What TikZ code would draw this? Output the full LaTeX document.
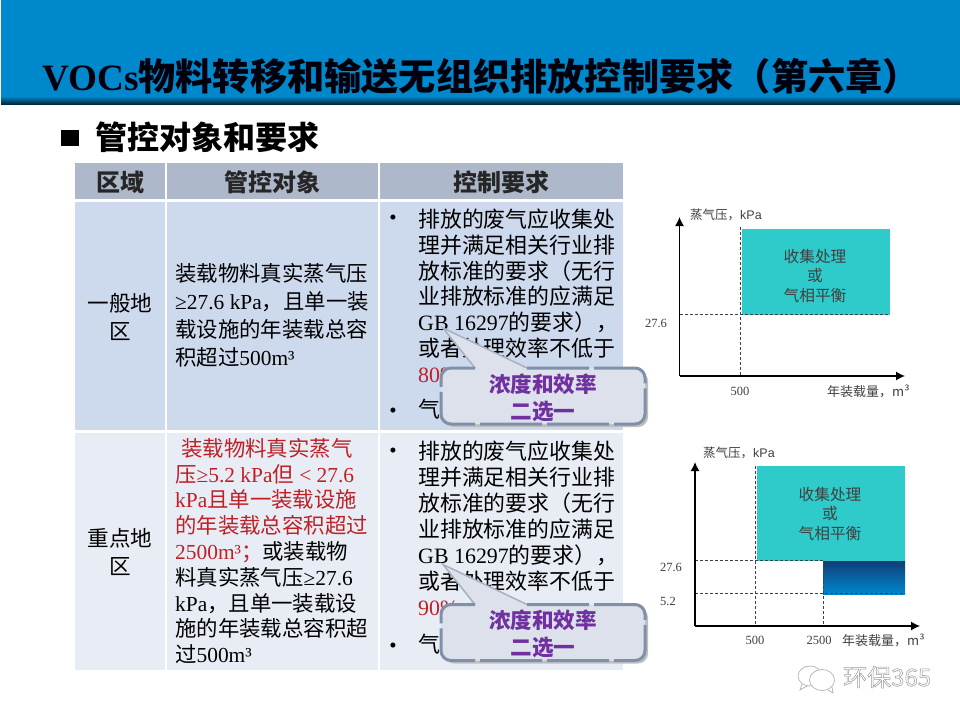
\documentclass[tikz,border=0pt]{standalone}
\usepackage{fontspec}
\setmainfont{Liberation Serif}
\newfontfamily\cjk{Noto Sans CJK SC}
\newfontfamily\lsans{Liberation Sans}
\newcommand{\Cn}[1]{{\cjk #1}}
\definecolor{bandblue}{HTML}{0088CC}
\definecolor{headgray}{HTML}{ADB9CA}
\definecolor{rowa}{HTML}{CDD9EC}
\definecolor{rowb}{HTML}{E8EDF5}
\definecolor{teal}{HTML}{2FCBCB}
\definecolor{calloutfill}{HTML}{DCE1EC}
\definecolor{calloutline}{HTML}{8090A8}
\definecolor{purpletext}{HTML}{7030A0}
\definecolor{redtext}{HTML}{BE2026}
\definecolor{labelgray}{HTML}{404040}
\definecolor{deepblue}{HTML}{0F3E78}
\tikzset{
  headtext/.style={inner sep=0pt,font=\fontsize{24}{26}\selectfont\cjk\bfseries,text=black!85},
  bodytext/.style={inner sep=0pt,align=left,anchor=north west,font=\fontsize{21.9}{25.9}\selectfont},
  centertext/.style={inner sep=0pt,align=center,font=\fontsize{21.6}{28}\selectfont\cjk},
  bulletmark/.style={inner sep=0pt,font=\fontsize{21}{21}\selectfont},
  calloutshape/.style={draw=calloutline,line width=3pt,dash pattern=on 62pt off 5pt},
  calloutshadow/.style={fill=black!25,draw=none},
  callouttext/.style={inner sep=0pt,align=center,text=purpletext,font=\fontsize{21.6}{27}\selectfont\cjk\bfseries},
  axisline/.style={line width=1.3pt,-{Latex[length=9pt,width=9pt]}},
  guide/.style={line width=.7pt,dash pattern=on 3pt off 2pt,draw=black!75},
  tick/.style={inner sep=0pt,font=\fontsize{12.5}{13}\selectfont,text=labelgray},
  axislabel/.style={inner sep=0pt,anchor=west,font=\fontsize{13}{14}\selectfont\cjk,text=labelgray},
  ylabeltext/.style={inner sep=0pt,anchor=west,font=\fontsize{12.5}{14}\selectfont\cjk,text=labelgray},
  zonetext/.style={inner sep=0pt,align=center,text=black!75,font=\fontsize{15.7}{19.5}\selectfont\cjk},
}
\usetikzlibrary{arrows.meta,calc}
\newcommand{\BubbleBox}[2]{% y-offset, name
  \begin{scope}[yshift=-#1pt]
    \path[calloutshadow,rounded corners=10pt] (444,371) rectangle (648,427);
    \path[fill=calloutfill,draw=none,rounded corners=10pt] (441,368) -- (475,368) [sharp corners] -- (443,328) -- (527,368) [rounded corners=10pt] -- (645,368) -- (645,424) -- (441,424) -- cycle;
    \draw[calloutline!70,line width=1.5pt] (475,368) -- (443,328) -- (527,368);
    \draw[calloutshape,rounded corners=10pt] (527,368) -- (645,368) -- (645,424) -- (441,424) -- (441,368) -- (475,368);
    \node[callouttext] (#2) at (543,397.5) {浓度和效率\\二选一};
  \end{scope}
}
\begin{document}
\begin{tikzpicture}[x=1pt,y=-1pt]
\useasboundingbox (0,0) rectangle (960,720);
\fill[white] (0,0) rectangle (960,720);
% title band
\fill[bandblue] (1,0) rectangle (960,97);
\shade[top color=bandblue,bottom color=black!70!bandblue] (1,96) rectangle (960,104);
\node[inner sep=0pt,anchor=base west,text=black!95!blue,font=\fontsize{37.2}{40}\selectfont\bfseries] (title) at (42,90.5) {VOCs\Cn{物料转移和输送无组织排放控制要求（第六章）}};
% section heading
\fill[black] (61,129.5) rectangle (79,146);
\node[inner sep=0pt,anchor=west,font=\fontsize{32}{36}\selectfont\cjk\bfseries] (section) at (95,137) {管控对象和要求};
% table
\fill[headgray] (75,163) rectangle (164.5,198.5);
\fill[headgray] (166.5,163) rectangle (377.5,198.5);
\fill[headgray] (379.5,163) rectangle (623,198.5);
\fill[rowa] (75,202) rectangle (164.5,430);
\fill[rowa] (166.5,202) rectangle (377.5,430);
\fill[rowa] (379.5,202) rectangle (623,430);
\fill[rowb] (75,432.5) rectangle (164.5,670);
\fill[rowb] (166.5,432.5) rectangle (377.5,670);
\fill[rowb] (379.5,432.5) rectangle (623,670);
\node[headtext] (h1) at (120,182) {区域};
\node[headtext] (h2) at (272,182) {管控对象};
\node[headtext] (h3) at (501,182) {控制要求};
\node[centertext] (z1) at (120,317) {一般地\\区};
\node[centertext] (z2) at (120,552) {重点地\\区};
\node[bodytext,font=\fontsize{21.4}{28}\selectfont] (o1) at (175,263) {\Cn{装载物料真实蒸气压}\\≥27.6 kPa\Cn{，且单一装}\\\Cn{载设施的年装载总容}\\\Cn{积超过}500m³};
\node[bodytext,font=\fontsize{21.4}{25.8}\selectfont] (o2) at (175,438) {\textcolor{redtext}{\hspace{6pt}\Cn{装载物料真实蒸气}}\\\textcolor{redtext}{\Cn{压}≥5.2 kPa\Cn{但} < 27.6}\\\textcolor{redtext}{kPa\Cn{且单一装载设施}}\\\textcolor{redtext}{\Cn{的年装载总容积超过}}\\\textcolor{redtext}{2500m³\Cn{；}}\Cn{或装载物}\\\Cn{料真实蒸气压}≥27.6\\kPa\Cn{，且单一装载设}\\\Cn{施的年装载总容积超}\\\Cn{过}500m³};
% requirement texts
\node[bodytext] (r1) at (418,208.5) {\Cn{排放的废气应收集处}\\\Cn{理并满足相关行业排}\\\Cn{放标准的要求（无行}\\\Cn{业排放标准的应满足}\\GB 16297\Cn{的要求），}\\\Cn{或者处理效率不低于}\\\textcolor{redtext}{80\%}};
\node[bulletmark] (b1) at (393,220) {•};
\node[bulletmark] (b2) at (393,413) {•};
\node[bodytext] (r1b) at (418,399) {\Cn{气}};
\node[bodytext] (r2) at (418,441) {\Cn{排放的废气应收集处}\\\Cn{理并满足相关行业排}\\\Cn{放标准的要求（无行}\\\Cn{业排放标准的应满足}\\GB 16297\Cn{的要求），}\\\Cn{或者处理效率不低于}\\\textcolor{redtext}{90\%}};
\node[bulletmark] (b3) at (393,453) {•};
\node[bulletmark] (b4) at (393,648) {•};
\node[bodytext] (r2b) at (418,634) {\Cn{气}};
% callouts
\BubbleBox{236.5}{c2}
\BubbleBox{0}{c1}
% chart 1
\coordinate (o) at (679.5,376);
\fill[teal] (742,229) rectangle (890,315);
\draw[guide] (740,227) -- (740,376);
\draw[guide] (680,314) -- (890,314);
\draw[axisline] (o) -- (679.5,217);
\draw[axisline] (o) -- (905,376);
\node[zonetext] (t1) at (815,276) {收集处理\\或\\气相平衡};
\node[ylabeltext] (yl1) at (690,215) {蒸气压，\lsans kPa};
\node[axislabel] (xl1) at (827,391) {年装载量，m³};
\node[tick] (v1) at (656,323) {27.6};
\node[tick] (v2) at (740,391) {500};
% chart 2
\coordinate (p) at (695,626);
\fill[teal] (757,466) rectangle (905,561);
\shade[top color=deepblue,bottom color=bandblue] (823,561) rectangle (905,594);
\draw[guide] (755,466) -- (755,626);
\draw[guide] (823,561) -- (823,626);
\draw[guide] (695,560.5) -- (823,560.5);
\draw[guide] (695,593.5) -- (905,593.5);
\draw[axisline] (p) -- (695,462);
\draw[axisline] (p) -- (920,626);
\node[zonetext] (t2) at (830,514) {收集处理\\或\\气相平衡};
\node[ylabeltext] (yl2) at (703,453) {蒸气压，\lsans kPa};
\node[axislabel] (xl2) at (842,640) {年装载量，m³};
\node[tick] (w1) at (671,567) {27.6};
\node[tick] (w2) at (668,601) {5.2};
\node[tick] (w3) at (755,640) {500};
\node[tick] (w4) at (819,640) {2500};
% watermark
\draw[black!30,line width=.7pt,fill=white] (810,676) ellipse (12 and 10);
\draw[black!30,line width=.7pt] (802,684) -- (800,690) -- (807,686);
\draw[black!30,line width=.7pt,fill=white] (822,680) ellipse (12.5 and 10.5);
\draw[black!30,line width=.7pt] (828,690) -- (833,693) -- (832,687);
\node[inner sep=0pt,anchor=west,font=\fontsize{24}{26}\selectfont\cjk] (wm) at (843,677) {\special{pdf:code q 2 Tr 0.5 w 0.6 G 1 g}环保365\special{pdf:code Q}};
\end{tikzpicture}
\end{document}
